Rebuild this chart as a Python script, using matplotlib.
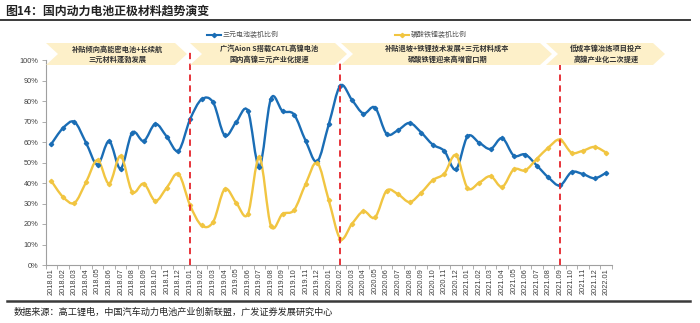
import matplotlib
matplotlib.use("Agg")
import matplotlib.pyplot as plt
from matplotlib.path import Path
from matplotlib.patches import PathPatch, Polygon
from matplotlib.lines import Line2D

plt.rcParams['font.family'] = ['Noto Sans CJK SC', 'DejaVu Sans']

months = ["2018.01","2018.02","2018.03","2018.04","2018.05","2018.06","2018.07","2018.08","2018.09","2018.10","2018.11","2018.12",
          "2019.01","2019.02","2019.03","2019.04","2019.05","2019.06","2019.07","2019.08","2019.09","2019.10","2019.11","2019.12",
          "2020.01","2020.02","2020.03","2020.04","2020.05","2020.06","2020.07","2020.08","2020.09","2020.10","2020.11","2020.12",
          "2021.01","2021.02","2021.03","2021.04","2021.05","2021.06","2021.07","2021.08","2021.09","2021.10","2021.11","2021.12",
          "2022.01"]
ncm = [59, 66.7, 69.8, 59.7, 49, 60.4, 47, 64.6, 60.5, 68.8, 62.5, 55.7,
       71, 80.8, 79.3, 63.2, 69.8, 75.3, 48, 81.2, 75.1, 73.4, 60.6, 50.5,
       68.6, 87.5, 80.6, 73.9, 76.8, 64, 65.8, 69.3, 64.6, 58.7, 55.6, 46.6,
       62.7, 59.7, 56.6, 61.9, 53.4, 53.9, 48.5, 42.7, 38.8, 45.3, 44.3, 42.3,
       45]
lfp = [41, 33.3, 30.3, 40.3, 51.2, 39.7, 53.2, 35.7, 39.7, 31.3, 37.8, 44.4,
       29.2, 19.3, 21, 37, 30.3, 24.8, 52.5, 19.1, 24.9, 26.8, 39.5, 49.9,
       31.6, 12.8, 20, 26.2, 23.2, 36.2, 34.5, 30.7, 35.3, 41.4, 44.6, 53.6,
       37.6, 40.1, 43.3, 38.1, 46.6, 46.2, 51.8, 57.3, 61.2, 54.8, 55.8, 57.6,
       54.8]
series_names = ["三元电池装机比例", "磷酸铁锂装机比例"]
events = [12, 25, 44]
banner_texts = [
    "补贴倾向高能密电池+长续航\n三元材料蓬勃发展",
    "广汽Aion S搭载CATL高镍电池\n国内高镍三元产业化提速",
    "补贴退坡+铁锂技术发展+三元材料成本\n磷酸铁锂迎来高增窗口期",
    "低成本镍冶炼项目投产\n高镍产业化二次提速",
]

W, H = 700, 323
fig = plt.figure(figsize=(W/100, H/100), dpi=100)

def fx(px): return px / W
def fy(py): return 1 - py / H

BLUE = "#1A6DB5"
YELLOW = "#F1C541"
GRAY = "#404040"

ax = fig.add_axes([fx(45.5), fy(265), fx(612) - fx(45.5), fy(60) - fy(265)])

def smooth_path(xs, ys):
    pts = list(zip(xs, ys))
    n = len(pts)
    verts = [pts[0]]
    codes = [Path.MOVETO]
    for i in range(n - 1):
        p0 = pts[i - 1] if i > 0 else pts[i]
        p1 = pts[i]
        p2 = pts[i + 1]
        p3 = pts[i + 2] if i + 2 < n else pts[i + 1]
        c1 = (p1[0] + (p2[0] - p0[0]) / 6, p1[1] + (p2[1] - p0[1]) / 6)
        c2 = (p2[0] - (p3[0] - p1[0]) / 6, p2[1] - (p3[1] - p1[1]) / 6)
        verts += [c1, c2, p2]
        codes += [Path.CURVE4] * 3
    return Path(verts, codes)

x = list(range(len(months)))
for vals, col in [(ncm, BLUE), (lfp, YELLOW)]:
    ax.add_patch(PathPatch(smooth_path(x, vals), facecolor="none", edgecolor=col, lw=1.7, zorder=3))
    ax.plot(x, vals, linestyle="none", marker="D", ms=2.2, color=col, zorder=4)

for e in events:
    ax.plot([e, e], [0, 105], color="#E5242B", lw=1.3, linestyle=(0, (3.5, 2.5)), zorder=5, clip_on=False)

ax.set_xlim(-0.45, 48.45)
ax.set_ylim(0, 100)
ax.set_yticks(range(0, 101, 10))
ax.set_yticklabels([f"{v}%" for v in range(0, 101, 10)], fontsize=5.3, color=GRAY, family="Liberation Sans")
ax.set_xticks(x)
ax.set_xticklabels(months, rotation=90, fontsize=5.3, color=GRAY, family="Liberation Sans")
ax.set_xticks([i + 0.5 for i in range(-1, 49)], minor=True)
ax.tick_params(axis="x", which="major", length=0, pad=2)
ax.tick_params(axis="x", which="minor", length=3, color="#A0A0A0", width=0.6)
ax.tick_params(axis="y", length=3, color="#A0A0A0", width=0.6, pad=2)
for s in ["top", "right"]:
    ax.spines[s].set_visible(False)
for s in ["left", "bottom"]:
    ax.spines[s].set_color("#A0A0A0")
    ax.spines[s].set_linewidth(0.8)
ax.patch.set_alpha(0)

# Title and rules
fig.text(fx(5), fy(11), "图14：国内动力电池正极材料趋势演变", fontsize=8.6, fontweight="bold",
         color="#222222", va="center", ha="left")
fig.add_artist(Line2D([fx(0), fx(690)], [fy(20), fy(20)], color="#3A3A3A", lw=1.4))
fig.add_artist(Line2D([fx(7), fx(690)], [fy(301), fy(301)], color="#3A3A3A", lw=1.8))
fig.text(fx(14), fy(312), "数据来源：高工锂电，中国汽车动力电池产业创新联盟，广发证券发展研究中心",
         fontsize=6.6, color="#222222", va="center", ha="left")

# Legend
for (lx, col, name) in [(207, BLUE, series_names[0]), (395, YELLOW, series_names[1])]:
    fig.add_artist(Line2D([fx(lx), fx(lx + 14)], [fy(35), fy(35)], color=col, lw=1.5))
    fig.add_artist(Line2D([fx(lx + 7)], [fy(35)], color=col, marker="D", ms=2.2, lw=0))
    fig.text(fx(lx + 16), fy(35), name, fontsize=5, color="#555555", va="center", ha="left")

# Banners
banners = [(46, 187), (190, 347), (341, 552), (546, 665)]
top, bot, d = 43, 65, 12
mid = (top + bot) / 2
for (x0, x1), txt in zip(banners, banner_texts):
    pts = [(fx(x0), fy(top)), (fx(x1 - d), fy(top)), (fx(x1), fy(mid)),
           (fx(x1 - d), fy(bot)), (fx(x0), fy(bot)), (fx(x0 + d), fy(mid))]
    fig.add_artist(Polygon(pts, closed=True, facecolor="#FDF0C9", edgecolor="none", transform=fig.transFigure))
    fig.text(fx((x0 + x1) / 2 + 1), fy(mid), txt, fontsize=5.2, fontweight="bold", color="#333333",
             ha="center", va="center", linespacing=1.5)

fig.savefig("out.png", dpi=100)
